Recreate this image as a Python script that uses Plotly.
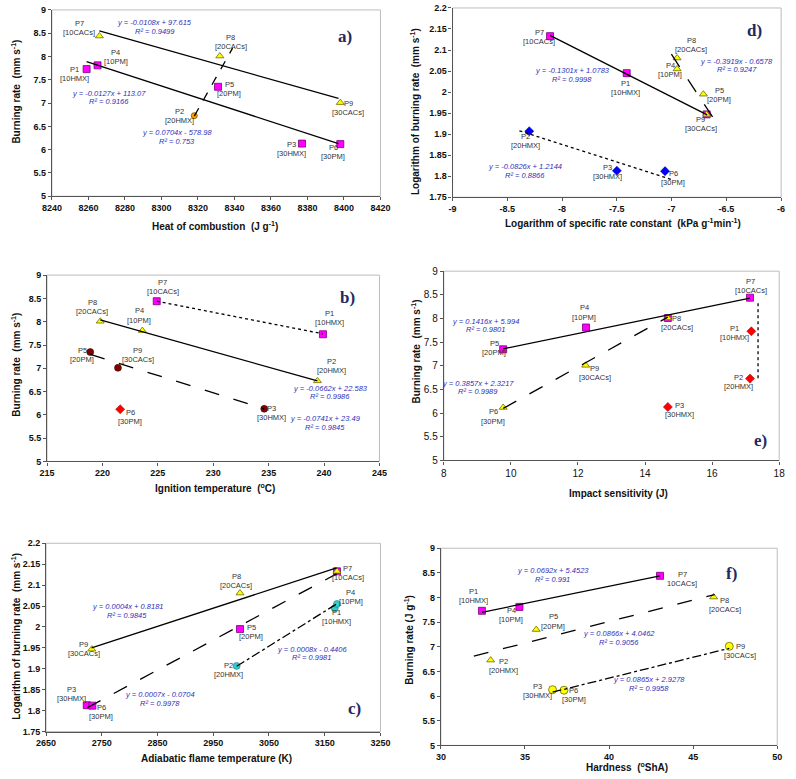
import plotly.graph_objects as go

W, H = 796, 779

# ---------------- data (P1..P9) ----------------
point_names = ["P1", "P2", "P3", "P4", "P5", "P6", "P7", "P8", "P9"]
compositions = ["[10HMX]", "[20HMX]", "[30HMX]", "[10PM]", "[20PM]", "[30PM]",
                "[10CACs]", "[20CACs]", "[30CACs]"]
burning_rate = [7.73, 6.73, 6.13, 7.81, 7.35, 6.12, 8.44, 8.01, 7.01]
log_burning_rate = [2.045, 1.907, 1.813, 2.055, 1.995, 1.812, 2.133, 2.081, 1.947]
heat_of_combustion = [8259, 8318, 8377, 8265, 8331, 8398, 8266, 8332, 8398]
ignition_temperature = [239.9, 239.4, 234.6, 223.6, 218.9, 221.6, 224.9, 219.8, 221.4]
log_rate_constant = [-7.41, -8.30, -7.50, -6.95, -6.71, -7.06, -8.11, -6.95, -6.68]
impact_sensitivity = [17.17, 17.13, 14.68, 12.24, 9.77, 9.77, 17.13, 14.68, 12.23]
flame_temperature = [3168, 2992, 2723, 3172, 2998, 2733, 3172, 2998, 2732]
hardness = [32.44, 32.96, 36.64, 34.67, 35.67, 37.32, 43.03, 46.22, 47.15]

# trendline end points as drawn
trend_a = [([8259, 8397], [7.89, 6.13], "solid"), ([8266, 8397], [8.55, 7.10], "solid"),
           ([8318, 8339], [6.72, 8.18], "dash")]
trend_d = [([-8.111, -6.675], [2.135, 1.946], "solid"), ([-7.002, -6.624], [2.090, 1.940], "longdash"),
           ([-8.39, -6.987], [1.908, 1.791], "dot")]
trend_b = [([224.9, 239.9], [8.44, 7.74], "dot"), ([219.8, 239.4], [8.04, 6.73], "solid"),
           ([218.9, 234.6], [7.30, 6.13], "longdash")]
trend_e = [([9.77, 17.13], [7.36, 8.43], "solid"), ([9.77, 14.68], [6.10, 8.03], "longdash"),
           ([17.37, 17.37], [8.32, 6.69], "dot")]
trend_c = [([2731.6, 3171.3], [1.950, 2.141], "solid"), ([2724, 3171.3], [1.807, 2.127], "longdash"),
           ([2992, 3171.3], [1.906, 2.055], "dashdot")]
trend_f = [([32.44, 43.03], [7.70, 8.44], "solid"), ([31.96, 46.28], [6.81, 8.06], "longdash"),
           ([36.64, 47.15], [6.08, 6.97], "dashdot")]

# trendline equations
eq_a = [("y = -0.0108x + 97.615", "R² = 0.9499", 8296.4, 8.733, 8.536),
        ("y = -0.0127x + 113.07", "R² = 0.9166", 8271.5, 7.214, 7.025),
        ("y = 0.0704x - 578.98", "R² = 0.753", 8308.8, 6.371, 6.181)]
eq_d = [("y = -0.1301x + 1.0783", "R² = 0.9998", -7.909, 2.051, 2.030),
        ("y = -0.3919x - 0.6578", "R² = 0.9247", -6.407, 2.073, 2.053),
        ("y = -0.0826x + 1.2144", "R² = 0.8866", -8.340, 1.823, 1.802)]
eq_b = [("y = -0.0662x + 22.583", "R² = 0.9986", 240.54, 6.577, 6.394),
        ("y = -0.0741x + 23.49", "R² = 0.9845", 240.10, 5.930, 5.739)]
eq_e = [("y = 0.1416x + 5.994", "R² = 0.9801", 9.23, 7.943, 7.762),
        ("y = 0.3857x + 2.3217", "R² = 0.9989", 9.02, 6.621, 6.447)]
eq_c = [("y = 0.0004x + 0.8181", "R² = 0.9845", 2795.6, 2.0484, 2.0272),
        ("y = 0.0007x - 0.0704", "R² = 0.9978", 2853.9, 1.8379, 1.8175),
        ("y = 0.0008x - 0.4406", "R² = 0.9981", 3126.5, 1.9463, 1.9267)]
eq_f = [("y = 0.0692x + 5.4523", "R² = 0.991", 36.64, 8.547, 8.367),
        ("y = 0.0866x + 4.0462", "R² = 0.9056", 40.61, 7.267, 7.080),
        ("y = 0.0865x + 2.9278", "R² = 0.9958", 42.35, 6.327, 6.147)]

# marker styles
STY = {
    "msq": dict(symbol="square", size=7, color="#FF00FF", line=dict(color="#7A007A", width=0.8)),
    "ytri": dict(symbol="triangle-up", size=7, color="#FFFF00", line=dict(color="#6B6B00", width=0.8)),
    "ocir": dict(symbol="circle", size=6, color="#FFA500", line=dict(color="#7A4A00", width=0.8)),
    "bdia": dict(symbol="diamond", size=7, color="#0000FF", line=dict(color="#00007A", width=0.5)),
    "rcir": dict(symbol="circle", size=7, color="#800000", line=dict(color="#400000", width=0.5)),
    "rdia": dict(symbol="diamond", size=7, color="#FF0000", line=dict(color="#990000", width=0.5)),
    "ccir": dict(symbol="circle", size=7, color="#33CCCC", line=dict(color="#1A6B6B", width=0.5)),
    "ycir": dict(symbol="circle", size=8, color="#FFFF00", line=dict(color="#6B6B00", width=0.8)),
}

# label offsets (px) relative to each point, P1..P9
off_a = [(-12, -5), (-15, 0), (-10, -5), (18, 8), (11, -2), (-7, -8), (-20, 8), (11, 14), (8, -5)]
off_d = [(-1, -15), (-4, -10), (-9, -1), (-7, -1), (16, -1), (8, -7), (-11, -1), (14, 13), (-6, -10)]
off_b = [(7, 16), (14, 15), (7, -4), (-3, 15), (-8, -3), (10, -8), (6, 14), (-8, 14), (20, 13)]
off_e = [(-17, -2), (-11, -3), (12, -3), (-2, 15), (-9, 1), (-10, -9), (1, 12), (9, -5), (9, -8)]
off_c = [(2, -9), (-8, -4), (-15, 11), (14, 7), (11, -3), (9, -6), (11, -2), (-4, 12), (-8, 0)]
off_f = [(-8, 15), (13, -6), (-15, -1), (-8, -8), (17, 8), (10, -5), (22, -3), (11, -8), (11, -5)]

panels = [
    dict(n=1, px=(43, 380), py=(5, 194), x=heat_of_combustion, y=burning_rate,
         groups=[("msq", [0, 2, 3, 4, 5]), ("ytri", [6, 7, 8]), ("ocir", [1])],
         trends=trend_a, eqs=eq_a, offs=off_a, xr=[8240, 8420], xd=20, yr=[5, 9], yd=0.5,
         letter="a)", lx=8400.4, ly=8.43,
         xt="Heat of combustion  (J g<sup>-1</sup>)", xtp=(210, 224),
         yt="Burning rate  (mm s<sup>-1</sup>)", ytp=(6, 88), bold=True),
    dict(n=2, px=(454, 791), py=(3, 195), x=log_rate_constant, y=log_burning_rate,
         groups=[("msq", [0, 6, 8]), ("ytri", [3, 4, 7, 8]), ("bdia", [1, 2, 5])],
         trends=trend_d, eqs=eq_d, offs=off_d, xr=[-9, -6], xd=0.5, yr=[1.75, 2.2], yd=0.05,
         letter="d)", lx=-6.243, ly=2.147,
         xt="Logarithm of specific rate constant  (kPa g<sup>-1</sup>min<sup>-1</sup>)", xtp=(629, 221),
         yt="Logarithm of burning rate  (mm s<sup>-1</sup>)", ytp=(416, 108), bold=True,
         xticktext=True),
    dict(n=3, px=(38, 379), py=(274, 463), x=ignition_temperature, y=burning_rate,
         groups=[("msq", [0, 6]), ("ytri", [1, 3, 7]), ("rcir", [2, 4, 8]), ("rdia", [5])],
         trends=trend_b, eqs=eq_b, offs=off_b, xr=[215, 245], xd=5, yr=[5, 9], yd=0.5,
         letter="b)", lx=242.15, ly=8.52,
         xt="Ignition temperature  (<sup>o</sup>C)", xtp=(210, 490),
         yt="Burning rate  (mm s<sup>-1</sup>)", ytp=(6, 365), bold=True),
    dict(n=4, px=(445, 789), py=(270, 462), x=impact_sensitivity, y=burning_rate,
         groups=[("msq", [3, 4, 6, 7]), ("ytri", [5, 8, 7]), ("rdia", [0, 1, 2])],
         trends=trend_e, eqs=eq_e, offs=off_e, xr=[8, 18], xd=2, yr=[5, 9], yd=0.5,
         letter="e)", lx=17.44, ly=5.42,
         xt="Impact sensitivity (J)", xtp=(624, 496),
         yt="Burning rate  (mm s<sup>-1</sup>)", ytp=(416, 352), bold=False),
    dict(n=5, px=(37, 380), py=(546, 737), x=flame_temperature, y=log_burning_rate,
         groups=[("msq", [2, 5, 4, 6]), ("ytri", [8, 7, 6]), ("ccir", [1, 0, 3])],
         trends=trend_c, eqs=eq_c, offs=off_c, xr=[2650, 3250], xd=100, yr=[1.75, 2.2], yd=0.05,
         letter="c)", lx=3203.4, ly=1.805,
         xt="Adiabatic flame temperature (K)", xtp=(212, 764),
         yt="Logarithm of burning rate  (mm s<sup>-1</sup>)", ytp=(6, 640), bold=True),
    dict(n=6, px=(442, 787), py=(551, 751), x=hardness, y=burning_rate,
         groups=[("msq", [0, 3, 6]), ("ytri", [1, 4, 7]), ("ycir", [2, 5, 8])],
         trends=trend_f, eqs=eq_f, offs=off_f, xr=[30, 50], xd=5, yr=[5, 9], yd=0.5,
         letter="f)", lx=47.29, ly=8.48,
         xt="Hardness  (<sup>o</sup>ShA)", xtp=(633, 773),
         yt="Burning rate (J g<sup>-1</sup>)", ytp=(409, 644), bold=True),
]

FONT = "Arial, Liberation Sans, sans-serif"
EQC = "#2E2EB8"
LBL = 7.5

fig = go.Figure()
layout = dict(width=W, height=H, margin=dict(l=0, r=0, t=0, b=0),
              paper_bgcolor="white", plot_bgcolor="white", showlegend=False,
              font=dict(family=FONT, color="#222"))
annotations = []
shapes = []

for p in panels:
    n = p["n"]
    xa = "x" if n == 1 else f"x{n}"
    ya = "y" if n == 1 else f"y{n}"
    xkey = "xaxis" if n == 1 else f"xaxis{n}"
    ykey = "yaxis" if n == 1 else f"yaxis{n}"
    tickfont = dict(family=FONT, size=9 if p["bold"] else 10, color="#111")
    xax = dict(domain=[p["px"][0] / W, p["px"][1] / W], anchor=ya, range=p["xr"],
               tick0=p["xr"][0], dtick=p["xd"], showgrid=False, zeroline=False,
               showline=True, linecolor="#555", linewidth=1.2, ticks="outside",
               ticklen=3, tickcolor="#555", tickfont=tickfont)
    yax = dict(domain=[1 - p["py"][1] / H, 1 - p["py"][0] / H], anchor=xa, range=p["yr"],
               tick0=p["yr"][0], dtick=p["yd"], showgrid=False, zeroline=False,
               showline=True, linecolor="#555", linewidth=1.2, ticks="outside",
               ticklen=3, tickcolor="#555", tickfont=tickfont)
    if p["bold"]:
        xax["tickfont"] = dict(tickfont, weight="bold")
        yax["tickfont"] = dict(tickfont, weight="bold")
    if p.get("xticktext"):
        vals = [p["xr"][0] + i * p["xd"] for i in range(int(round((p["xr"][1] - p["xr"][0]) / p["xd"])) + 1)]
        xax["tickmode"] = "array"
        xax["tickvals"] = vals
        xax["ticktext"] = [("%g" % v) for v in vals]
    layout[xkey] = xax
    layout[ykey] = yax

    # plot area frame (light grey)
    shapes.append(dict(type="rect", xref=f"{xa} domain", yref=f"{ya} domain",
                       x0=0, x1=1, y0=0, y1=1, line=dict(color="#BDBDBD", width=1),
                       layer="below"))

    # markers
    for sty, idx in p["groups"]:
        fig.add_trace(go.Scatter(x=[p["x"][i] for i in idx], y=[p["y"][i] for i in idx],
                                 mode="markers", marker=STY[sty], xaxis=xa, yaxis=ya,
                                 hoverinfo="skip"))
    # trendlines
    for tx, ty, dash in p["trends"]:
        fig.add_trace(go.Scatter(x=tx, y=ty, mode="lines", xaxis=xa, yaxis=ya,
                                 line=dict(color="black", width=1.3, dash=dash),
                                 hoverinfo="skip"))
    # point labels
    for i in range(9):
        dx, dy = p["offs"][i]
        comp = compositions[i]
        if n == 6 and i == 6:
            comp = "10CACs]"
        for txt, extra in ((point_names[i], 4.6), (comp, -4.6)):
            annotations.append(dict(x=p["x"][i], y=p["y"][i], xref=xa, yref=ya, text=txt,
                                    showarrow=False, xshift=dx, yshift=dy + extra,
                                    xanchor="center", yanchor="middle",
                                    font=dict(family=FONT, size=LBL, color="#333")))
    # equations
    for l1, l2, ex, ey1, ey2 in p["eqs"]:
        for txt, yy in ((l1, ey1), (l2, ey2)):
            annotations.append(dict(x=ex, y=yy, xref=xa, yref=ya, text=f"<i>{txt}</i>",
                                    showarrow=False, xanchor="center", yanchor="middle",
                                    font=dict(family=FONT, size=LBL, color=EQC)))
    # panel letter
    annotations.append(dict(x=p["lx"], y=p["ly"], xref=xa, yref=ya, text=f"<b>{p['letter']}</b>",
                            showarrow=False, xanchor="center", yanchor="middle",
                            font=dict(family="Liberation Serif, Times New Roman, serif", size=17,
                                      color="#1F2A60")))
    # axis titles
    annotations.append(dict(x=p["xtp"][0] / W, y=1 - p["xtp"][1] / H, xref="paper", yref="paper",
                            text=f"<b>{p['xt']}</b>", showarrow=False,
                            xanchor="center", yanchor="middle",
                            font=dict(family=FONT, size=10, color="#111")))
    annotations.append(dict(x=p["ytp"][0] / W, y=1 - p["ytp"][1] / H, xref="paper", yref="paper",
                            text=f"<b>{p['yt']}</b>", showarrow=False, textangle=-90,
                            xanchor="center", yanchor="middle",
                            font=dict(family=FONT, size=10, color="#111")))

layout["annotations"] = annotations
layout["shapes"] = shapes
fig.update_layout(**layout)
fig.write_html("out.html")
